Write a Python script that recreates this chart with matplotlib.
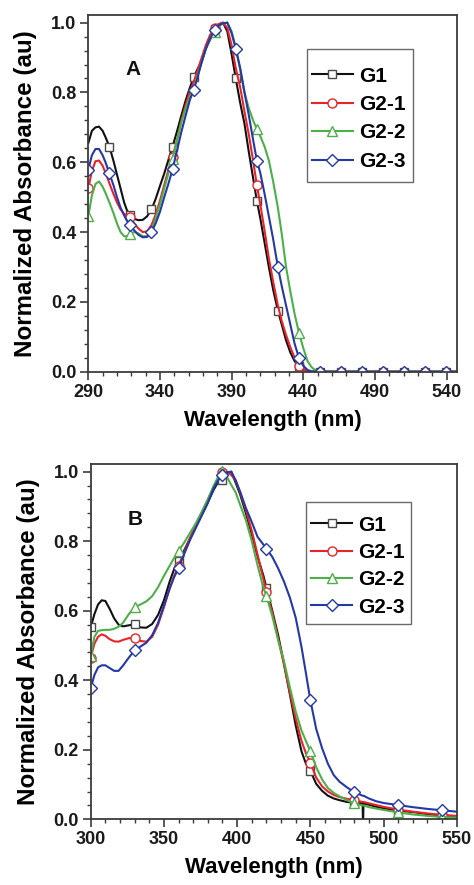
"""
Normalized UV-vis absorbance of G1 / G2-x, two panels (A and B).
"""

import matplotlib
matplotlib.use('Agg')
import matplotlib.pyplot as plt
import matplotlib.patches as mpatches
from matplotlib.ticker import FixedLocator, FormatStrFormatter, MultipleLocator
import numpy as np


# ------------------------------------------------------------------ #
#  Data                                          #
# ------------------------------------------------------------------ #

# Panel A wavelength grid (nm)
A_WL = [290, 292.5, 295, 297.5, 300, 302, 304.7, 307.5, 310, 312.5,
        315, 317, 319.4, 322, 325, 328, 331, 334.1, 337, 340,
        343, 346, 348.8, 352, 355, 358, 361, 363.5, 366, 369,
        372, 375, 378.2, 381, 384, 387, 390, 392.9, 396, 399,
        402, 405, 407.6, 410, 413, 416, 419, 422.3, 425, 428,
        431, 434, 437, 440, 443, 446, 449, 451.7, 455, 460,
        466.4, 481.1, 495.8, 510.5, 525.2, 539.9, 547]

A_G1 = [0.655, 0.69, 0.70, 0.702, 0.69, 0.672, 0.645, 0.605, 0.565, 0.525,
        0.485, 0.462, 0.449, 0.438, 0.434, 0.435, 0.445, 0.465, 0.495, 0.532,
        0.568, 0.608, 0.645, 0.69, 0.735, 0.778, 0.815, 0.843, 0.865, 0.888,
        0.925, 0.955, 0.983, 0.995, 1.0, 0.975, 0.91, 0.84, 0.77, 0.71,
        0.63, 0.555, 0.49, 0.44, 0.37, 0.30, 0.235, 0.175, 0.135, 0.09,
        0.055, 0.03, 0.016, 0.007, 0.002, 0, 0, 0, 0, 0,
        0, 0, 0, 0, 0, 0, 0]

A_G21 = [0.525, 0.575, 0.603, 0.605, 0.59, 0.57, 0.54, 0.51, 0.485, 0.465,
         0.452, 0.447, 0.443, 0.425, 0.41, 0.40, 0.402, 0.42, 0.45, 0.49,
         0.535, 0.58, 0.615, 0.665, 0.72, 0.765, 0.805, 0.83, 0.86, 0.898,
         0.935, 0.965, 0.985, 0.996, 1.0, 0.985, 0.935, 0.87, 0.815, 0.745,
         0.68, 0.605, 0.535, 0.48, 0.405, 0.325, 0.258, 0.19, 0.145, 0.105,
         0.07, 0.04, 0.016, 0.006, 0.002, 0, 0, 0, 0, 0,
         0, 0, 0, 0, 0, 0, 0]

A_G22 = [0.445, 0.505, 0.538, 0.545, 0.53, 0.512, 0.485, 0.455, 0.425, 0.40,
         0.388, 0.388, 0.395, 0.40, 0.396, 0.388, 0.388, 0.405, 0.44, 0.48,
         0.525, 0.57, 0.61, 0.665, 0.716, 0.755, 0.79, 0.81, 0.845, 0.885,
         0.925, 0.95, 0.972, 0.99, 0.998, 1.0, 0.975, 0.93, 0.865, 0.80,
         0.755, 0.72, 0.695, 0.675, 0.645, 0.605, 0.545, 0.47, 0.395, 0.30,
         0.23, 0.165, 0.112, 0.068, 0.03, 0.012, 0.003, 0, 0, 0,
         0, 0, 0, 0, 0, 0, 0]

A_G23 = [0.578, 0.62, 0.638, 0.638, 0.62, 0.60, 0.568, 0.535, 0.50, 0.47,
         0.448, 0.432, 0.42, 0.405, 0.392, 0.385, 0.386, 0.40, 0.425, 0.458,
         0.50, 0.54, 0.58, 0.635, 0.688, 0.735, 0.78, 0.807, 0.84, 0.885,
         0.925, 0.955, 0.978, 0.992, 0.998, 1.0, 0.97, 0.925, 0.87, 0.80,
         0.735, 0.665, 0.605, 0.57, 0.51, 0.445, 0.38, 0.30, 0.245, 0.19,
         0.135, 0.08, 0.04, 0.017, 0.005, 0.001, 0, 0, 0, 0,
         0, 0, 0, 0, 0, 0, 0]

# where the symbols sit in panel A
A_MARKS_G1 = [304.7, 319.4, 334.1, 348.8, 363.5, 378.2, 392.9, 407.6, 422.3,
              437, 451.7, 466.4, 481.1, 495.8, 510.5, 525.2, 539.9]
A_MARKS_G23 = [290] + A_MARKS_G1
A_MARKS_G2X = [290, 319.4, 348.8, 378.2, 407.6, 437, 466.4, 495.8, 525.2]
A_XTICKS = [290, 340, 390, 440, 490, 540]

# Panel B wavelength grid (nm)
B_WL = [300, 302.5, 305, 307.5, 310, 313, 316, 319, 322, 326,
        330, 334, 338, 342, 346, 350, 354, 357, 360, 364,
        368, 372, 376, 380, 384, 387, 390, 393, 396, 399,
        402, 406, 410, 414, 418, 420, 424, 428, 432, 436,
        440, 444, 447, 450, 454, 458, 462, 466, 470, 475,
        480, 485.7, 486, 486.3, 490, 495, 500, 510, 520, 530,
        540, 550]

B_G1 = [0.552, 0.59, 0.618, 0.63, 0.628, 0.605, 0.578, 0.56, 0.555, 0.558,
        0.561, 0.552, 0.551, 0.562, 0.588, 0.63, 0.685, 0.72, 0.742, 0.775,
        0.81, 0.845, 0.878, 0.912, 0.948, 0.97, 0.975, 0.993, 1.0, 0.968,
        0.935, 0.88, 0.82, 0.755, 0.70, 0.666, 0.60, 0.53, 0.448, 0.36,
        0.27, 0.195, 0.16, 0.14, 0.102, 0.082, 0.068, 0.06, 0.055, 0.05,
        0.048, 0.046, -0.02, 0.046, 0.042, 0.036, 0.032, 0.025, 0.021, 0.015,
        0.01, 0.006]

B_G21 = [0.465, 0.505, 0.525, 0.532, 0.528, 0.518, 0.512, 0.511, 0.516, 0.521,
         0.521, 0.513, 0.511, 0.525, 0.56, 0.61, 0.665, 0.70, 0.73, 0.77,
         0.81, 0.85, 0.885, 0.92, 0.955, 0.98, 0.998, 1.0, 0.99, 0.975,
         0.94, 0.89, 0.83, 0.76, 0.69, 0.655, 0.595, 0.52, 0.445, 0.365,
         0.29, 0.225, 0.19, 0.163, 0.12, 0.095, 0.08, 0.07, 0.064, 0.059,
         0.055, 0.05, 0.05, 0.05, 0.046, 0.041, 0.036, 0.028, 0.022, 0.017,
         0.013, 0.01]

B_G22 = [0.47, 0.525, 0.542, 0.544, 0.545, 0.545, 0.548, 0.554, 0.565, 0.59,
         0.61, 0.618, 0.627, 0.642, 0.668, 0.70, 0.73, 0.752, 0.772, 0.797,
         0.825, 0.853, 0.885, 0.92, 0.96, 0.985, 1.003, 0.985, 0.962, 0.94,
         0.905, 0.86, 0.80, 0.73, 0.665, 0.643, 0.585, 0.515, 0.455, 0.38,
         0.31, 0.255, 0.225, 0.196, 0.15, 0.115, 0.09, 0.076, 0.066, 0.055,
         0.046, 0.04, 0.04, 0.04, 0.035, 0.031, 0.027, 0.02, 0.014, 0.01,
         0.007, 0.005]

B_G23 = [0.377, 0.415, 0.437, 0.443, 0.443, 0.435, 0.427, 0.427, 0.442, 0.465,
         0.486, 0.497, 0.508, 0.53, 0.565, 0.615, 0.665, 0.697, 0.722, 0.765,
         0.805, 0.84, 0.875, 0.91, 0.953, 0.975, 0.99, 0.998, 1.0, 0.975,
         0.943, 0.895, 0.855, 0.812, 0.79, 0.778, 0.755, 0.722, 0.684, 0.638,
         0.58, 0.495, 0.42, 0.343, 0.26, 0.205, 0.16, 0.127, 0.108, 0.092,
         0.078, 0.068, 0.068, 0.068, 0.06, 0.052, 0.047, 0.041, 0.035, 0.03,
         0.026, 0.022]

B_MARKS = [300, 330, 360, 390, 420, 450, 480, 510, 540]
B_XTICKS = [300, 350, 400, 450, 500, 550]

LABELS = ['G1', 'G2-1', 'G2-2', 'G2-3']
COLORS = ['#111111', '#e8242a', '#4cb048', '#2438a6']
MARKERS = ['s', 'o', '^', 'D']
MSIZES = [5.5, 6.5, 6.5, 6.0]

plt.rcParams['font.family'] = ['Liberation Sans', 'DejaVu Sans']
plt.rcParams['font.weight'] = 'bold'
plt.rcParams['axes.labelweight'] = 'bold'

AX_GRAY = '#3c3c3c'


def style_axes(ax, xlim, xticks):
    ax.set_xlim(*xlim)
    ax.set_ylim(0, 1.022)
    ax.xaxis.set_major_locator(FixedLocator(xticks))
    ax.xaxis.set_minor_locator(FixedLocator(np.arange(xticks[0], xlim[1] + 0.1, 10)))
    ax.yaxis.set_major_locator(MultipleLocator(0.2))
    ax.yaxis.set_minor_locator(MultipleLocator(0.04))
    ax.yaxis.set_major_formatter(FormatStrFormatter('%.1f'))
    ax.tick_params(which='both', direction='out', top=False, right=False,
                   colors=AX_GRAY, labelcolor='#1a1a1a')
    ax.tick_params(which='major', length=6, width=1.2, labelsize=13, pad=2.5)
    ax.tick_params(which='minor', length=3.2, width=1.0)
    for spine in ax.spines.values():
        spine.set_edgecolor(AX_GRAY)
        spine.set_linewidth(1.3)
    ax.set_xlabel('Wavelength (nm)', fontsize=16, labelpad=6.5)
    ax.set_ylabel('Normalized Absorbance (au)', fontsize=17.4, labelpad=10)


fig = plt.figure(figsize=(4.74, 8.85), dpi=100)
axA = fig.add_axes([0.1863, 0.580, 0.7772, 0.4031])
axB = fig.add_axes([0.1914, 0.0742, 0.7722, 0.4015])

# (axes, grid, series, marker positions, xlim, xticks, tag, tag pos,
#  legend anchor, legend row spacing, legend box [x0, y0, w, h] in axes fraction)
panels = [
    (axA, A_WL, [A_G1, A_G21, A_G22, A_G23],
     [A_MARKS_G1, A_MARKS_G2X, A_MARKS_G2X, A_MARKS_G23],
     (290, 547.1), A_XTICKS, 'A', (321, 0.865),
     (0.606, 0.855), 0.45, (0.593, 0.533, 0.289, 0.371)),
    (axB, B_WL, [B_G1, B_G21, B_G22, B_G23],
     [B_MARKS] * 4,
     (300, 550), B_XTICKS, 'B', (330.5, 0.861),
     (0.601, 0.855), 0.40, (0.588, 0.549, 0.286, 0.345)),
]

for ax, wl, series, marks, xlim, xticks, tag, tag_xy, anchor, lspace, box in panels:
    wl = np.asarray(wl)
    for vals, mk, label, color, marker, ms in zip(series, marks, LABELS,
                                                    COLORS, MARKERS, MSIZES):
        idx = list(np.nonzero(np.isin(wl, mk))[0])
        edge = '#4a4a4a' if label == 'G1' else color
        ax.plot(wl, vals, color=color, linewidth=1.5, label=label,
                marker=marker, markersize=ms, markevery=idx,
                markerfacecolor='white', markeredgecolor=edge,
                markeredgewidth=1.0)
    style_axes(ax, xlim, xticks)
    ax.text(tag_xy[0], tag_xy[1], tag, fontsize=15, fontweight='bold',
            ha='center', va='center', color='#111111')

    # legend frame with a hard black drop shadow (drawn by hand so the
    # vertical padding can be larger than the horizontal one)
    frame = mpatches.Rectangle(box[:2], box[2], box[3], transform=ax.transAxes,
                               facecolor='white', edgecolor='#6a6a6a',
                               linewidth=1.0, zorder=8)
    shadow = mpatches.Shadow(frame, 3.8, -3.8, facecolor='black',
                             edgecolor='black', alpha=1, zorder=7)
    ax.add_patch(shadow)
    ax.add_patch(frame)

    leg = ax.legend(loc='upper left', bbox_to_anchor=anchor, borderaxespad=0,
                    borderpad=0, fontsize=15, numpoints=1, handlelength=2.0,
                    handletextpad=0.3, labelspacing=lspace, frameon=False)
    leg.set_zorder(9)
    for t in leg.get_texts():
        t.set_fontweight('bold')

fig.savefig('out.png', dpi=100)
